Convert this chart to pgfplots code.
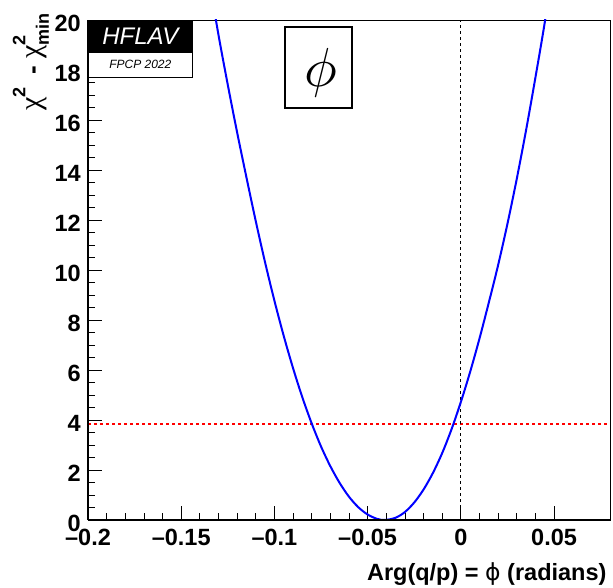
\documentclass[border=0pt]{standalone}
\usepackage{pgfplots}
\pgfplotsset{compat=1.18}
\usepackage{fontspec}
\setmainfont{Liberation Sans}
\newfontfamily\symf{Liberation Serif}
\newfontfamily\dejavu{DejaVu Sans}
\definecolor{rootred}{RGB}{255,0,0}
\begin{document}
\begin{tikzpicture}
\path[use as bounding box] (-88pt,-68pt) rectangle (525pt,520pt);
\begin{axis}[
  at={(0pt,0pt)}, anchor=south west,
  scale only axis, width=522pt, height=500pt,
  xmin=-0.2, xmax=0.08, ymin=0, ymax=20,
  xtick={-0.2,-0.15,-0.1,-0.05,0,0.05},
  xticklabels={–0.2,–0.15,–0.1,–0.05,0,0.05},
  ytick={0,2,4,6,8,10,12,14,16,18,20},
  yticklabels={0,2,4,6,8,10,12,14,16,18,20},
  minor x tick num=4, minor y tick num=3,
  tick align=inside, tick pos=left,
  major tick length=14pt, minor tick length=7pt,
  tick style={black, line width=0.8pt},
  axis line style={line width=0.8pt},
  ticklabel style={font=\fontsize{23.5}{28}\selectfont\bfseries, inner sep=0pt},
  xticklabel style={anchor=base, yshift=-26pt},
  yticklabel style={anchor=east, xshift=-7pt, yshift=-3pt},
  clip=true,
]
\addplot[draw=rootred, line width=1.2pt, dash pattern=on 3pt off 3pt] coordinates {(-0.2,3.84) (0.08,3.84)};
\addplot[draw=black, line width=1.2pt, dash pattern=on 3pt off 3pt] coordinates {(0,0) (0,20)};
\addplot[blue, line width=2pt, smooth] coordinates {
(-0.135,21.6) (-0.130,19.4) (-0.125,17.4) (-0.120,15.5) (-0.115,13.7) (-0.110,11.95)
(-0.105,10.3) (-0.100,8.77) (-0.095,7.36) (-0.090,6.07) (-0.085,4.90) (-0.080,3.86)
(-0.075,2.94) (-0.070,2.15) (-0.065,1.48) (-0.060,0.93) (-0.055,0.51) (-0.050,0.22)
(-0.045,0.046) (-0.0407,0) (-0.035,0.09) (-0.030,0.32) (-0.025,0.70) (-0.020,1.22)
(-0.015,1.88) (-0.010,2.68) (-0.005,3.63) (0,4.72) (0.005,5.93) (0.010,7.26)
(0.015,8.70) (0.020,10.2) (0.025,11.85) (0.030,13.65) (0.035,15.6) (0.040,17.7)
(0.045,19.9) (0.050,22.4)
};
\end{axis}
% heavier bottom and left axis lines
\draw[line width=2.5pt] (0pt,0pt) -- (522pt,0pt);
\draw[line width=1.5pt] (0pt,0pt) -- (0pt,500pt);
% HFLAV logo
\fill[black] (0pt,500pt) rectangle (104.7pt,467.7pt);
\node[text=white, font=\fontsize{24}{28}\selectfont\itshape] at (52.3pt,483.5pt) {HFLAV};
\draw[line width=0.8pt, fill=white] (0pt,467.7pt) rectangle (104.7pt,442.7pt);
\node[font=\fontsize{12}{14}\selectfont\itshape] at (52.3pt,455.2pt) {FPCP 2022};
% phi box
\draw[line width=2.2pt, fill=white] (197pt,493pt) rectangle (263.7pt,411.7pt);
\node at (233pt,447pt) {\scalebox{5.5}{$\phi$}};
% axis titles
\node[anchor=base east, font=\fontsize{23.5}{28}\selectfont\bfseries] at (522pt,-61pt) {Arg(q/p) = {\dejavu\mdseries ϕ} (radians)};
\node[rotate=90, anchor=base east, font=\fontsize{26}{30}\selectfont\bfseries] at (-47pt,510pt)
  {{\symf\mdseries\fontsize{30}{30}\selectfont χ}\rlap{\raisebox{0.6em}{\fontsize{18}{18}\selectfont 2}}\hspace{0.6em} - {\symf\mdseries\fontsize{30}{30}\selectfont χ}\rlap{\raisebox{0.6em}{\fontsize{18}{18}\selectfont 2}}\raisebox{-0.3em}{\fontsize{18}{18}\selectfont min}};
\end{tikzpicture}
\end{document}
